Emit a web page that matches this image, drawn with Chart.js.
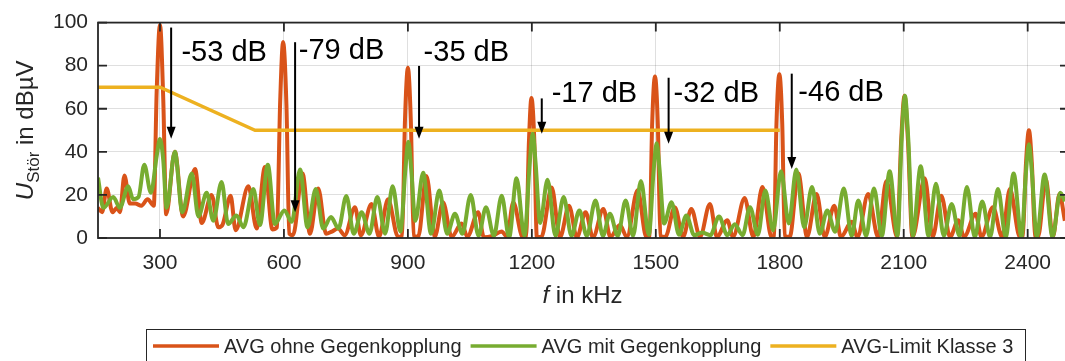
<!DOCTYPE html>
<html>
<head>
<meta charset="utf-8">
<script src="https://cdn.jsdelivr.net/npm/chart.js@4.4.0/dist/chart.umd.min.js"></script>
<style>
html,body{margin:0;padding:0;background:#fff;overflow:hidden;}
#wrap{width:1069px;height:361px;}
</style>
</head>
<body>
<div id="wrap"><canvas id="c" width="1069" height="361"></canvas></div>
<script>
// f in kHz, U in dBµV (peaks and valleys)
const ohneGegenkopplung = [
  [150,14],[160,12],[171,23],[185,12],[196,14],[203,12],[214,29],[227,16],[240,16],[255,15],[270,18],[285,15],
  [292,68],[300,99],[308,64],[315,11],[336,40],[356,10],[385,32],[401,7],[425,20],[441,5],[451,6],[471,19.6],[483,3.6],[514,24],
  [534,4.4],[554,33],[572,4],[583,5],[591,64],[598,91],[606,62],[613,2],[622,1.3],[645,30],[663,2],[683,23],[702,2],[716,3],
  [731,4.4],[747,1.3],[772,14.3],[786,1.3],[812,15.8],[830,0.6],[852,18],[876,0.6],[886,1],[893,55],[900,79],[907,55],[914,1],
  [925,0.6],[945,28.8],[965,0.6],[985,16.6],[1006,0.6],[1030,6.7],[1044,0.6],[1070,12],[1084,0.3],[1105,1],
  [1127,3],[1140,0.5],[1155,16.6],[1178,0.3],[1186,0.5],[1193,45],[1199,65],[1206,45],[1212,0.5],[1223,0.5],[1248,23.4],[1268,0.3],
  [1290,15],[1309,0.3],[1330,12],[1348,0.3],[1373,13.5],[1390,0.5],[1413,6],[1430,0.5],[1456,22.2],[1477,0.5],
  [1485,1],[1491,52],[1498,75],[1505,52],[1511,1],[1523,0.5],[1546,14.3],[1566,0.5],[1586,13.5],[1607,0.5],[1631,15.8],[1648,0.5],
  [1673,8.2],[1687,0.5],[1715,18.6],[1736,0.5],[1758,23.7],[1780,0.5],[1786,1],[1792,53],[1799,76],[1806,53],[1812,1],[1824,0.5],
  [1845,30],[1866,0.5],[1889,20.4],[1909,0.5],[1932,15],[1948,0.5],[1974,7.5],[1988,0.5],[2014,20.4],[2038,0.5],
  [2058,26.5],[2084,0.5],[2094,46],[2102,66],[2110,46],[2121,0.5],[2151,27.7],[2170,0.5],[2191,19.6],[2212,0.5],[2232,8.2],[2246,0.5],
  [2274,11.3],[2288,0.5],[2316,14.3],[2338,0.5],[2357,22.7],[2381,0.5],[2388,1],[2396,35],[2403,50],[2410,35],[2418,1],[2425,0.5],
  [2444,27],[2461,0.5],[2477,20.4],[2490,8]
];
const mitGegenkopplung = [
  [150,28],[163,14],[187,19],[203,14],[223,24],[235,18],[248,19],[262,34],[278,21],[292,38],[300,46],[308,36],[316,14],[336,40],
  [354,12],[377,30],[393,10],[413,21],[429,8],[449,26],[465,6.5],[485,10.5],[502,5],[526,22.7],[542,6],[561,34],
  [578,6.5],[601,12.8],[619,7.5],[639,31.8],[657,5],[677,22.7],[695,4.4],[714,9.7],[732,4.4],[751,19.5],[769,2],
  [788,12],[807,2],[826,19],[845,2],[863,24],[882,3],[894,32],[901,44.7],[908,32],[918,8],[937,30.3],[956,2],[976,22],[995,2],
  [1014,11.3],[1032,2],[1052,20],[1071,1],[1089,14.3],[1108,1],[1127,19.6],[1145,0.3],[1163,27.7],[1182,1],
  [1195,35],[1202,48.6],[1209,35],[1220,7],[1238,27],[1257,1],[1277,19],[1296,1],[1315,12.8],[1333,1],[1354,17.4],[1372,1],[1389,11.3],
  [1408,1],[1427,17.4],[1445,1],[1464,26.5],[1483,1.5],[1495,32],[1502,44],[1509,32],[1520,6.7],[1538,16.6],[1556,1.5],[1574,10.5],
  [1593,1.3],[1612,2.5],[1632,1.3],[1653,10],[1673,1.3],[1691,6.4],[1710,1.3],[1728,14.3],[1747,1.5],[1765,22],
  [1784,3.6],[1803,31],[1822,6.7],[1840,31.8],[1859,5],[1878,23.7],[1897,2],[1915,12.8],[1934,2.9],[1955,23],
  [1974,1],[1990,17.4],[2009,1],[2028,23],[2047,1],[2066,31],[2085,1],[2095,46],[2103,66],[2111,46],[2122,1],[2141,33.3],[2160,1],
  [2178,25.2],[2197,1],[2216,15.8],[2235,1],[2253,23.7],[2272,0.5],[2290,17],[2309,0.5],[2328,22.7],[2347,0.5],
  [2366,30],[2385,0.5],[2396,31],[2403,43.5],[2410,31],[2422,0.5],[2441,29.5],[2460,0.5],[2479,21],[2490,17]
];
const limitKlasse3 = [[150,70],[300,70],[530,50],[1800,50]];

const xTicks = [300,600,900,1200,1500,1800,2100,2400];
const yTicks = [0,20,40,60,80,100];

// reduction markers: text, arrow f, arrow top, arrow tip, text f, text U
const reduction = ['-53 dB','-79 dB','-35 dB','-17 dB','-32 dB','-46 dB'];
const arrowF   = [327, 627, 927, 1224, 1531, 1829];
const arrowTop = [97.7, 90.9, 79.9, 64.8, 74.4, 76.3];
const arrowTip = [46.1, 11.9, 46.1, 48.4, 43.8, 32];
const labelF   = [352, 636, 938, 1248, 1543, 1845];
const labelU   = [86, 86.8, 86, 66.7, 66.7, 67.1];

const seriesNames = ['AVG ohne Gegenkopplung','AVG mit Gegenkopplung','AVG-Limit Klasse 3'];
const seriesColors = ['#D95319','#77AC30','#EDB120'];

const FONT = "'Liberation Sans', Arial, Helvetica, sans-serif";
const AX = '#262626';

const toXY = arr => arr.map(p => ({x:p[0], y:p[1]}));

const decorations = {
  id:'decorations',
  afterDraw(chart){
    const {ctx, chartArea:a} = chart;
    const xs = chart.scales.x, ys = chart.scales.y;
    ctx.save();
    // box + inward ticks
    ctx.strokeStyle = AX; ctx.lineWidth = 1.8;
    ctx.strokeRect(a.left, a.top, a.right-a.left, a.bottom-a.top);
    ctx.beginPath();
    xTicks.forEach(v=>{
      const px = xs.getPixelForValue(v);
      ctx.moveTo(px, a.bottom); ctx.lineTo(px, a.bottom-9);
      ctx.moveTo(px, a.top); ctx.lineTo(px, a.top+9);
    });
    yTicks.forEach(v=>{
      const py = ys.getPixelForValue(v);
      ctx.moveTo(a.left, py); ctx.lineTo(a.left+9, py);
      ctx.moveTo(a.right, py); ctx.lineTo(a.right-9, py);
    });
    ctx.stroke();

    // arrows + labels
    ctx.strokeStyle = '#000'; ctx.fillStyle = '#000'; ctx.lineWidth = 2;
    ctx.font = '29px '+FONT; ctx.textAlign = 'left'; ctx.textBaseline = 'middle';
    reduction.forEach((t,i)=>{
      const px = xs.getPixelForValue(arrowF[i]);
      const pTop = ys.getPixelForValue(arrowTop[i]);
      const pTip = ys.getPixelForValue(arrowTip[i]);
      ctx.beginPath(); ctx.moveTo(px, pTop); ctx.lineTo(px, pTip-10); ctx.stroke();
      ctx.beginPath(); ctx.moveTo(px-4.5, pTip-12); ctx.lineTo(px+4.5, pTip-12); ctx.lineTo(px, pTip); ctx.closePath(); ctx.fill();
      ctx.fillText(t, xs.getPixelForValue(labelF[i]), ys.getPixelForValue(labelU[i]));
    });

    // x title
    ctx.fillStyle = AX; ctx.textBaseline = 'alphabetic';
    const cx = (a.left+1065)/2 + 1;
    ctx.font = 'italic 24px '+FONT; const wf = ctx.measureText('f').width;
    ctx.font = '24px '+FONT; const wr = ctx.measureText(' in kHz').width;
    let sx = cx - (wf+wr)/2;
    ctx.font = 'italic 24px '+FONT; ctx.fillText('f', sx, 303);
    ctx.font = '24px '+FONT; ctx.fillText(' in kHz', sx+wf, 303);

    // y title
    ctx.save();
    ctx.translate(33, (a.top+a.bottom)/2); ctx.rotate(-Math.PI/2);
    ctx.font = 'italic 24px '+FONT; const wU = ctx.measureText('U').width;
    ctx.font = '17px '+FONT; const wS = ctx.measureText('Stör').width;
    ctx.font = '24px '+FONT; const wI = ctx.measureText(' in dBµV').width;
    sx = -(wU+wS+wI)/2;
    ctx.font = 'italic 24px '+FONT; ctx.fillText('U', sx, 0); sx += wU;
    ctx.font = '17px '+FONT; ctx.fillText('Stör', sx, 6); sx += wS;
    ctx.font = '24px '+FONT; ctx.fillText(' in dBµV', sx, 0);
    ctx.restore();

    // legend
    ctx.strokeStyle = AX; ctx.lineWidth = 1;
    ctx.strokeRect(146.5, 329.5, 879, 40);
    ctx.font = '20px '+FONT; ctx.textBaseline = 'middle';
    let lx = 153;
    seriesNames.forEach((n,i)=>{
      ctx.strokeStyle = seriesColors[i]; ctx.lineWidth = 3.5;
      ctx.beginPath(); ctx.moveTo(lx, 346); ctx.lineTo(lx+66, 346); ctx.stroke();
      ctx.fillStyle = AX; ctx.fillText(n, lx+71, 347);
      lx += 71 + ctx.measureText(n).width + 9;
    });
    ctx.restore();
  }
};

new Chart(document.getElementById('c'), {
  type:'line',
  data:{
    datasets:[
      {label:seriesNames[0], data:toXY(ohneGegenkopplung), borderColor:seriesColors[0], borderWidth:4,
       pointRadius:0, cubicInterpolationMode:'monotone', fill:false, order:2},
      {label:seriesNames[1], data:toXY(mitGegenkopplung), borderColor:seriesColors[1], borderWidth:4,
       pointRadius:0, cubicInterpolationMode:'monotone', fill:false, order:1},
      {label:seriesNames[2], data:toXY(limitKlasse3), borderColor:seriesColors[2], borderWidth:3.5,
       pointRadius:0, tension:0, fill:false, order:0}
    ]
  },
  options:{
    responsive:false, animation:false, devicePixelRatio:1,
    layout:{padding:{top:19, right:0, left:0, bottom:0}},
    plugins:{legend:{display:false}, tooltip:{enabled:false}},
    scales:{
      x:{type:'linear', min:150, max:2500,
         afterBuildTicks: s => { s.ticks = xTicks.map(v=>({value:v})); },
         afterFit: s => { s.height = 123; },
         grid:{color:'rgba(38,38,38,0.15)', drawTicks:false},
         border:{display:false},
         ticks:{padding:13, color:AX, font:{family:FONT, size:21}, maxRotation:0, autoSkip:false, callback:v=>String(v)}},
      y:{min:0, max:100,
         afterBuildTicks: s => { s.ticks = yTicks.map(v=>({value:v})); },
         afterFit: s => { s.width = 98; },
         grid:{color:'rgba(38,38,38,0.15)', drawTicks:false},
         border:{display:false},
         ticks:{padding:10, color:AX, font:{family:FONT, size:21}, callback:v=>String(v)}}
    }
  },
  plugins:[decorations]
});
</script>
</body>
</html>
